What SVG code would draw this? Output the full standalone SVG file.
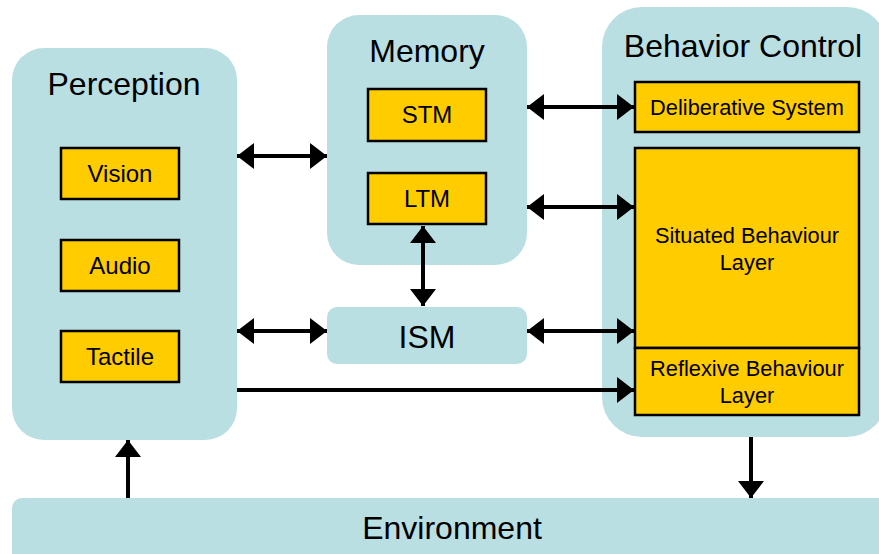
<svg xmlns="http://www.w3.org/2000/svg" width="879" height="554" viewBox="0 0 879 554">
<style>
.cont{fill:#B9DFE3;}
.box{fill:#FFCC00;stroke:#000;stroke-width:2.5;}
text{font-family:"Liberation Sans",Arial,sans-serif;fill:#000;text-anchor:middle;}
.title{font-size:32px;}
.lbl{font-size:24px;}
.sm{font-size:21.8px;}
.conn{stroke:#000;stroke-width:4;fill:none;}
</style>
<defs>
<marker id="ah" viewBox="0 0 17 26" refX="17" refY="13" markerWidth="17" markerHeight="26" markerUnits="userSpaceOnUse" orient="auto-start-reverse">
<path d="M0,0 L17,13 L0,26 z" fill="#000"/>
</marker>
</defs>
<rect width="879" height="554" fill="#fff"/>
<g id="perception">
<rect class="cont" x="12" y="48" width="225" height="392" rx="32"/>
<text class="title" x="124" y="95">Perception</text>
</g>
<g id="vision"><rect class="box" x="61" y="148" width="118" height="51"/><text class="lbl" x="120" y="182">Vision</text></g>
<g id="audio"><rect class="box" x="61" y="240" width="118" height="51"/><text class="lbl" x="120" y="274">Audio</text></g>
<g id="tactile"><rect class="box" x="61" y="331" width="118" height="51"/><text class="lbl" x="120" y="365">Tactile</text></g>
<g id="memory">
<rect class="cont" x="327" y="15" width="200" height="250" rx="32"/>
<text class="title" x="427" y="62">Memory</text>
</g>
<g id="stm"><rect class="box" x="368" y="89" width="118" height="52"/><text class="lbl" x="427" y="123">STM</text></g>
<g id="ltm"><rect class="box" x="368" y="173" width="118" height="51"/><text class="lbl" x="427" y="207">LTM</text></g>
<g id="ism">
<rect class="cont" x="327" y="307" width="200" height="57" rx="10"/>
<text class="title" x="427" y="348">ISM</text>
</g>
<g id="behavior-control">
<rect class="cont" x="602" y="7" width="285" height="430" rx="40"/>
<text class="title" x="743" y="57">Behavior Control</text>
</g>
<g id="deliberative"><rect class="box" x="635" y="82" width="224" height="50"/><text class="sm" x="747" y="115">Deliberative System</text></g>
<g id="situated"><rect class="box" x="635" y="148" width="224" height="200"/><text class="sm" x="747" y="243">Situated Behaviour</text><text class="sm" x="747" y="270">Layer</text></g>
<g id="reflexive"><rect class="box" x="635" y="348" width="224" height="67"/><text class="sm" x="747" y="376">Reflexive Behaviour</text><text class="sm" x="747" y="403">Layer</text></g>
<g id="environment">
<rect class="cont" x="12" y="498" width="880" height="80" rx="10"/>
<text class="title" x="452" y="539">Environment</text>
</g>
<g id="connectors">
<line class="conn" x1="237" y1="156" x2="327" y2="156" marker-start="url(#ah)" marker-end="url(#ah)"/>
<line class="conn" x1="237" y1="331" x2="327" y2="331" marker-start="url(#ah)" marker-end="url(#ah)"/>
<line class="conn" x1="527" y1="107" x2="634" y2="107" marker-start="url(#ah)" marker-end="url(#ah)"/>
<line class="conn" x1="527" y1="207" x2="634" y2="207" marker-start="url(#ah)" marker-end="url(#ah)"/>
<line class="conn" x1="527" y1="331" x2="634" y2="331" marker-start="url(#ah)" marker-end="url(#ah)"/>
<line class="conn" x1="237" y1="390" x2="634" y2="390" marker-end="url(#ah)"/>
<line class="conn" x1="423" y1="226" x2="423" y2="306" marker-start="url(#ah)" marker-end="url(#ah)"/>
<line class="conn" x1="128" y1="498" x2="128" y2="440" marker-end="url(#ah)"/>
<line class="conn" x1="751" y1="437" x2="751" y2="498" marker-end="url(#ah)"/>
</g>
</svg>
